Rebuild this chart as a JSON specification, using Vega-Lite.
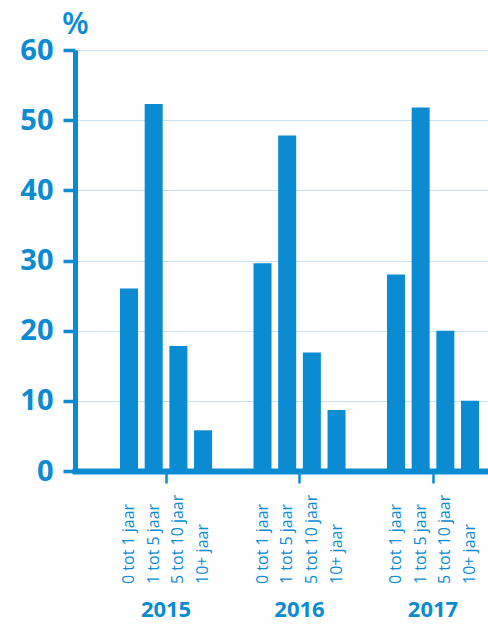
{
  "$schema": "https://vega.github.io/schema/vega-lite/v6.json",
  "width": 413,
  "height": 421,
  "autosize": {"type": "none"},
  "padding": {"left": 75, "top": 50, "right": 0, "bottom": 153},
  "background": "white",
  "config": {"view": {"stroke": null}, "font": "Open Sans"},
  "data": {
    "values": [
      {"year": "2015", "cat": "0 tot 1 jaar", "value": 26.0},
      {"year": "2015", "cat": "1 tot 5 jaar", "value": 52.3},
      {"year": "2015", "cat": "5 tot 10 jaar", "value": 17.8},
      {"year": "2015", "cat": "10+ jaar", "value": 5.8},
      {"year": "2016", "cat": "0 tot 1 jaar", "value": 29.6},
      {"year": "2016", "cat": "1 tot 5 jaar", "value": 47.8},
      {"year": "2016", "cat": "5 tot 10 jaar", "value": 16.9},
      {"year": "2016", "cat": "10+ jaar", "value": 8.7},
      {"year": "2017", "cat": "0 tot 1 jaar", "value": 28.0},
      {"year": "2017", "cat": "1 tot 5 jaar", "value": 51.8},
      {"year": "2017", "cat": "5 tot 10 jaar", "value": 20.0},
      {"year": "2017", "cat": "10+ jaar", "value": 10.0}
    ]
  },
  "encoding": {
    "x": {
      "field": "year",
      "type": "nominal",
      "scale": {"paddingInner": 0.266, "paddingOuter": 0.18, "align": 0.875},
      "axis": {
        "title": null,
        "labelAngle": 0,
        "labelFont": "Open Sans",
        "labelFontWeight": "bold",
        "labelFontSize": 22,
        "labelColor": "#0a8bd2",
        "labelPadding": 126,
        "labelBaseline": "middle",
        "domainColor": "#0a8bd2",
        "domainWidth": 6,
        "domainCap": "square",
        "tickColor": "#0a8bd2",
        "tickWidth": 2.5,
        "tickSize": 12
      }
    },
    "xOffset": {
      "field": "cat",
      "type": "nominal",
      "sort": ["0 tot 1 jaar", "1 tot 5 jaar", "5 tot 10 jaar", "10+ jaar"],
      "scale": {"paddingInner": 0.27, "paddingOuter": 0.12}
    }
  },
  "layer": [
    {
      "mark": {"type": "bar", "color": "#0a8bd2"},
      "encoding": {
        "y": {
          "field": "value",
          "type": "quantitative",
          "scale": {"domain": [0, 60], "nice": false},
          "axis": {
            "title": "%",
            "titleAngle": 0,
            "titleX": 0,
            "titleY": -10,
            "titleAlign": "center",
            "titleBaseline": "bottom",
            "titleFont": "Open Sans",
            "titleFontSize": 31,
            "titleFontWeight": 600,
            "titleColor": "#0a8bd2",
            "values": [0, 10, 20, 30, 40, 50, 60],
            "labelFont": "Open Sans",
            "labelFontWeight": "bold",
            "labelFontSize": 29,
            "labelColor": "#0a8bd2",
            "labelPadding": 10,
            "domainColor": "#0a8bd2",
            "domainWidth": 5,
            "tickColor": "#0a8bd2",
            "tickWidth": 3.5,
            "tickSize": 12,
            "grid": true,
            "gridColor": "#c9e2f4",
            "gridWidth": 1
          }
        }
      }
    },
    {
      "mark": {
        "type": "text",
        "angle": 270,
        "align": "left",
        "baseline": "middle",
        "dx": -113,
        "font": "Open Sans",
        "fontSize": 16,
        "color": "#0a8bd2"
      },
      "encoding": {
        "y": {"datum": 0, "type": "quantitative"},
        "text": {"field": "cat"}
      }
    }
  ]
}
